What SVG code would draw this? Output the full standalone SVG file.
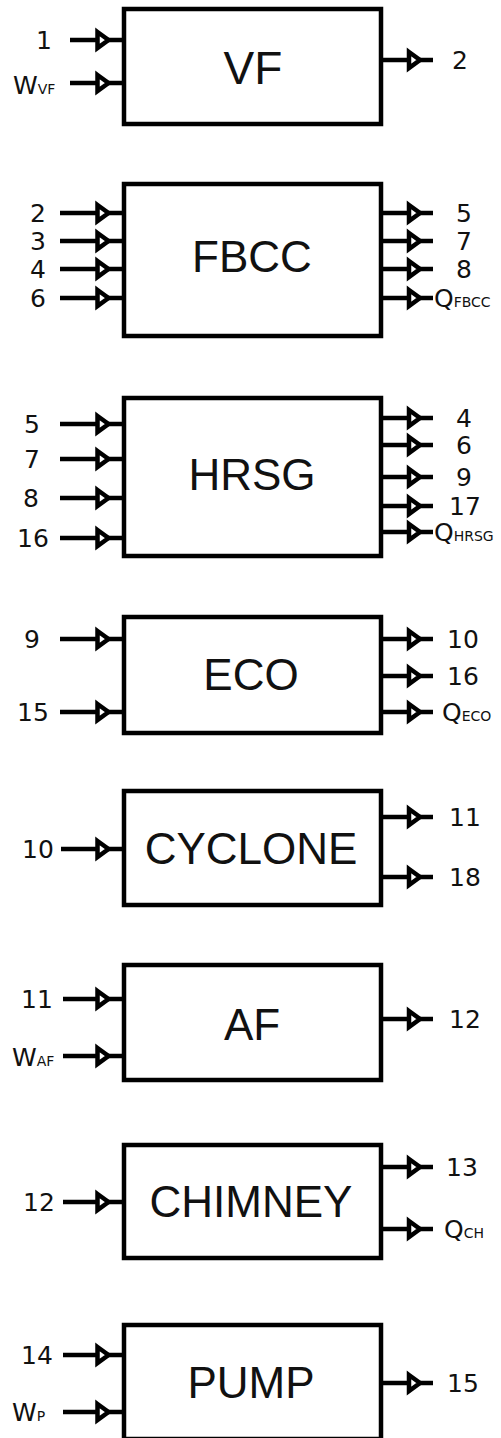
<svg xmlns="http://www.w3.org/2000/svg" xmlns:xlink="http://www.w3.org/1999/xlink" width="501" height="1438" viewBox="0 0 501 1438">
<style>
.box{fill:#fff;stroke:#000;stroke-width:4.5}
.title{font-family:"Liberation Sans",Arial,sans-serif;font-size:44px;fill:#111;text-anchor:middle}
.ln{stroke:#000;stroke-width:4.5;fill:none}
.head{fill:#fff;stroke:#000;stroke-width:4.5;stroke-linejoin:miter}
.lbl{font-family:"DejaVu Sans",Verdana,sans-serif;font-size:25px;fill:#111}
.l{text-anchor:middle}
.sub{font-size:14px}
</style>
<defs>
<polygon id="ah" class="head" points="-11,-8 0,0 -11,8"/>
</defs>
<rect width="501" height="1438" fill="#fff"/>

<g id="VF"><rect class="box" x="124" y="9" width="257" height="115"/><text class="title" x="253" y="84" style="font-size:46px">VF</text></g>
<g id="FBCC"><rect class="box" x="124" y="184" width="257" height="152"/><text class="title" x="252" y="272">FBCC</text></g>
<g id="HRSG"><rect class="box" x="124" y="398" width="257" height="158"/><text class="title" x="252" y="490">HRSG</text></g>
<g id="ECO"><rect class="box" x="124" y="617" width="257" height="116"/><text class="title" x="251" y="690">ECO</text></g>
<g id="CYCLONE"><rect class="box" x="124" y="791" width="257" height="114"/><text class="title" x="251" y="864">CYCLONE</text></g>
<g id="AF"><rect class="box" x="124" y="965" width="257" height="115"/><text class="title" x="252" y="1040">AF</text></g>
<g id="CHIMNEY"><rect class="box" x="124" y="1145" width="257" height="113"/><text class="title" x="251" y="1217">CHIMNEY</text></g>
<g id="PUMP"><rect class="box" x="124" y="1325" width="257" height="114"/><text class="title" x="251" y="1398">PUMP</text></g>

<g id="connectors">
<path class="ln" d="M70 40H124M70 83H124M381 60H433
M60 213H124M60 241H124M60 269H124M60 298H124M381 213H433M381 241H433M381 269H433M381 298H433
M60 424H124M60 459H124M60 498H124M60 538H124M381 418H433M381 445H433M381 477H433M381 506H433M381 532H433
M60 639H124M60 712H124M381 639H433M381 676H433M381 712H433
M61 849H124M381 817H433M381 877H433
M63 999H124M63 1056H124M381 1019H433
M63 1202H124M381 1167H433M381 1229H433
M63 1355H124M63 1412H124M381 1383H433"/>
<use xlink:href="#ah" x="108.5" y="40"/><use xlink:href="#ah" x="108.5" y="83"/><use xlink:href="#ah" x="420" y="60"/>
<use xlink:href="#ah" x="108.5" y="213"/><use xlink:href="#ah" x="108.5" y="241"/><use xlink:href="#ah" x="108.5" y="269"/><use xlink:href="#ah" x="108.5" y="298"/>
<use xlink:href="#ah" x="420" y="213"/><use xlink:href="#ah" x="420" y="241"/><use xlink:href="#ah" x="420" y="269"/><use xlink:href="#ah" x="420" y="298"/>
<use xlink:href="#ah" x="108.5" y="424"/><use xlink:href="#ah" x="108.5" y="459"/><use xlink:href="#ah" x="108.5" y="498"/><use xlink:href="#ah" x="108.5" y="538"/>
<use xlink:href="#ah" x="420" y="418"/><use xlink:href="#ah" x="420" y="445"/><use xlink:href="#ah" x="420" y="477"/><use xlink:href="#ah" x="420" y="506"/><use xlink:href="#ah" x="420" y="532"/>
<use xlink:href="#ah" x="108.5" y="639"/><use xlink:href="#ah" x="108.5" y="712"/>
<use xlink:href="#ah" x="420" y="639"/><use xlink:href="#ah" x="420" y="676"/><use xlink:href="#ah" x="420" y="712"/>
<use xlink:href="#ah" x="108.5" y="849"/><use xlink:href="#ah" x="420" y="817"/><use xlink:href="#ah" x="420" y="877"/>
<use xlink:href="#ah" x="108.5" y="999"/><use xlink:href="#ah" x="108.5" y="1056"/><use xlink:href="#ah" x="420" y="1019"/>
<use xlink:href="#ah" x="108.5" y="1202"/><use xlink:href="#ah" x="420" y="1167"/><use xlink:href="#ah" x="420" y="1229"/>
<use xlink:href="#ah" x="108.5" y="1355"/><use xlink:href="#ah" x="108.5" y="1412"/><use xlink:href="#ah" x="420" y="1383"/>
</g>

<g id="labels" class="lbl">
<text class="l" x="44" y="49">1</text>
<text x="13" y="94">W<tspan class="sub">VF</tspan></text>
<text x="452" y="69">2</text>

<text class="l" x="38" y="222">2</text><text class="l" x="38" y="250">3</text><text class="l" x="38" y="278">4</text><text class="l" x="38" y="307">6</text>
<text x="456" y="222">5</text><text x="456" y="250">7</text><text x="456" y="278">8</text>
<text x="434" y="307">Q<tspan class="sub">FBCC</tspan></text>

<text class="l" x="32" y="433">5</text><text class="l" x="32" y="468">7</text><text class="l" x="31" y="507">8</text><text class="l" x="33" y="547">16</text>
<text x="456" y="427">4</text><text x="456" y="454">6</text><text x="456" y="486">9</text><text x="449" y="515">17</text>
<text x="434" y="541">Q<tspan class="sub">HRSG</tspan></text>

<text class="l" x="32" y="648">9</text><text class="l" x="33" y="721">15</text>
<text x="447" y="648">10</text><text x="447" y="685">16</text>
<text x="442" y="721">Q<tspan class="sub">ECO</tspan></text>

<text class="l" x="38" y="858">10</text>
<text x="449" y="826">11</text><text x="449" y="886">18</text>

<text class="l" x="37" y="1008">11</text>
<text x="12" y="1066">W<tspan class="sub">AF</tspan></text>
<text x="449" y="1028">12</text>

<text class="l" x="39" y="1211">12</text>
<text x="446" y="1176">13</text>
<text x="444" y="1238">Q<tspan class="sub">CH</tspan></text>

<text class="l" x="37" y="1364">14</text>
<text x="12" y="1421">W<tspan class="sub">P</tspan></text>
<text x="447" y="1392">15</text>
</g>
</svg>
